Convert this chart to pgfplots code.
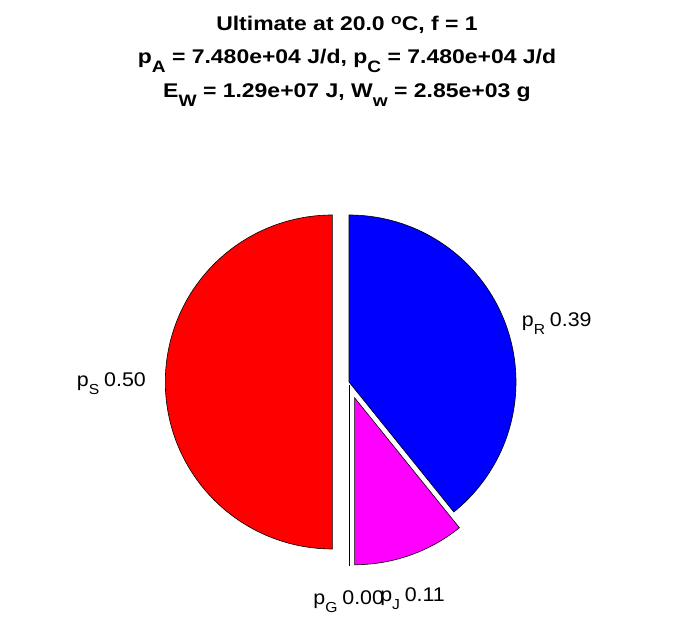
\documentclass[border=0pt]{standalone}
\usepackage{pgfplots}
\pgfplotsset{compat=1.18}
\usepackage{fontspec}
\setmainfont{Liberation Sans}
\definecolor{pieS}{rgb}{1,0,0}
\definecolor{pieR}{rgb}{0,0,1}
\definecolor{pieJ}{rgb}{1,0,1}

% pie fractions (S, R, J, G)
\def\fS{0.500}
\def\fR{0.392}
\def\fJ{0.108}
\def\fG{0.000}
\def\ex{0.1}% explode offset (fraction of radius)

\pgfmathsetmacro\aR{90-360*\fR}          % end angle of R
\pgfmathsetmacro\aJ{\aR-360*\fJ}          % end angle of J
\pgfmathsetmacro\mJ{(\aR+\aJ)/2}
\pgfmathsetmacro\oJx{\ex*cos(\mJ)}
\pgfmathsetmacro\oJy{\ex*sin(\mJ)}
\pgfmathsetmacro\aS{90+360*\fS}

\newcommand\lab[2]{{\fontsize{19.8}{20}\selectfont\scalebox{1.08}[1]{p\raisebox{-7.5pt}{\fontsize{14.5}{14}\selectfont #1}\hspace{4.5pt}#2}}}
\newcommand\tsub[1]{\raisebox{-9pt}{\fontsize{16.5}{16}\selectfont\bfseries #1}}
\newcommand\ttl[1]{{\fontsize{19.8}{22}\selectfont\bfseries\scalebox{1.16}[1]{#1}}}

\begin{document}
\begin{tikzpicture}
\begin{axis}[
  width=696pt, height=618pt, scale only axis, hide axis, clip=false,
  xmin=-2.0898, xmax=2.0778, ymin=-1.4132, ymax=2.2874,
]
\path (rel axis cs:0,0) rectangle (rel axis cs:1,1);
% S (exploded left)
\addplot[fill=pieS, draw=black, line width=0.6pt, domain=90:\aS, samples=121]
  ({-\ex+cos(x)},{sin(x)}) -- (axis cs:-\ex,0) -- cycle;
% R (not exploded)
\addplot[fill=pieR, draw=black, line width=0.6pt, domain=\aR:90, samples=101]
  ({cos(x)},{sin(x)}) -- (axis cs:0,0) -- cycle;
% J (exploded)
\addplot[fill=pieJ, draw=black, line width=0.6pt, domain=\aJ:\aR, samples=41]
  ({\oJx+cos(x)},{\oJy+sin(x)}) -- (axis cs:\oJx,\oJy) -- cycle;
% G (zero slice, exploded down)
\addplot[draw=black, line width=0.6pt] coordinates {(0,-0.02) (0,-1.1)};

\node[anchor=base west, inner sep=0pt] at (axis cs:-1.630,-0.028) {\lab{S}{0.50}};
\node[anchor=base west, inner sep=0pt] at (axis cs:1.034,0.331) {\lab{R}{0.39}};
\node[anchor=base west, inner sep=0pt] at (axis cs:-0.214,-1.335) {\lab{G}{0.00}};
\node[anchor=base west, inner sep=0pt] at (axis cs:0.186,-1.316) {\lab{J}{0.11}};

\node[anchor=base, inner sep=0pt] at (axis cs:-0.012,2.102)
  {\ttl{Ultimate at 20.0 \raisebox{6pt}{\fontsize{15}{15}\selectfont o}C, f = 1}};
\node[anchor=base, inner sep=0pt] at (axis cs:-0.012,1.910)
  {\ttl{p\tsub{A} = 7.480e+04 J/d, p\tsub{C} = 7.480e+04 J/d}};
\node[anchor=base, inner sep=0pt] at (axis cs:-0.012,1.701)
  {\ttl{E\tsub{W} = 1.29e+07 J, W\tsub{w} = 2.85e+03 g}};
\end{axis}
\end{tikzpicture}
\end{document}
